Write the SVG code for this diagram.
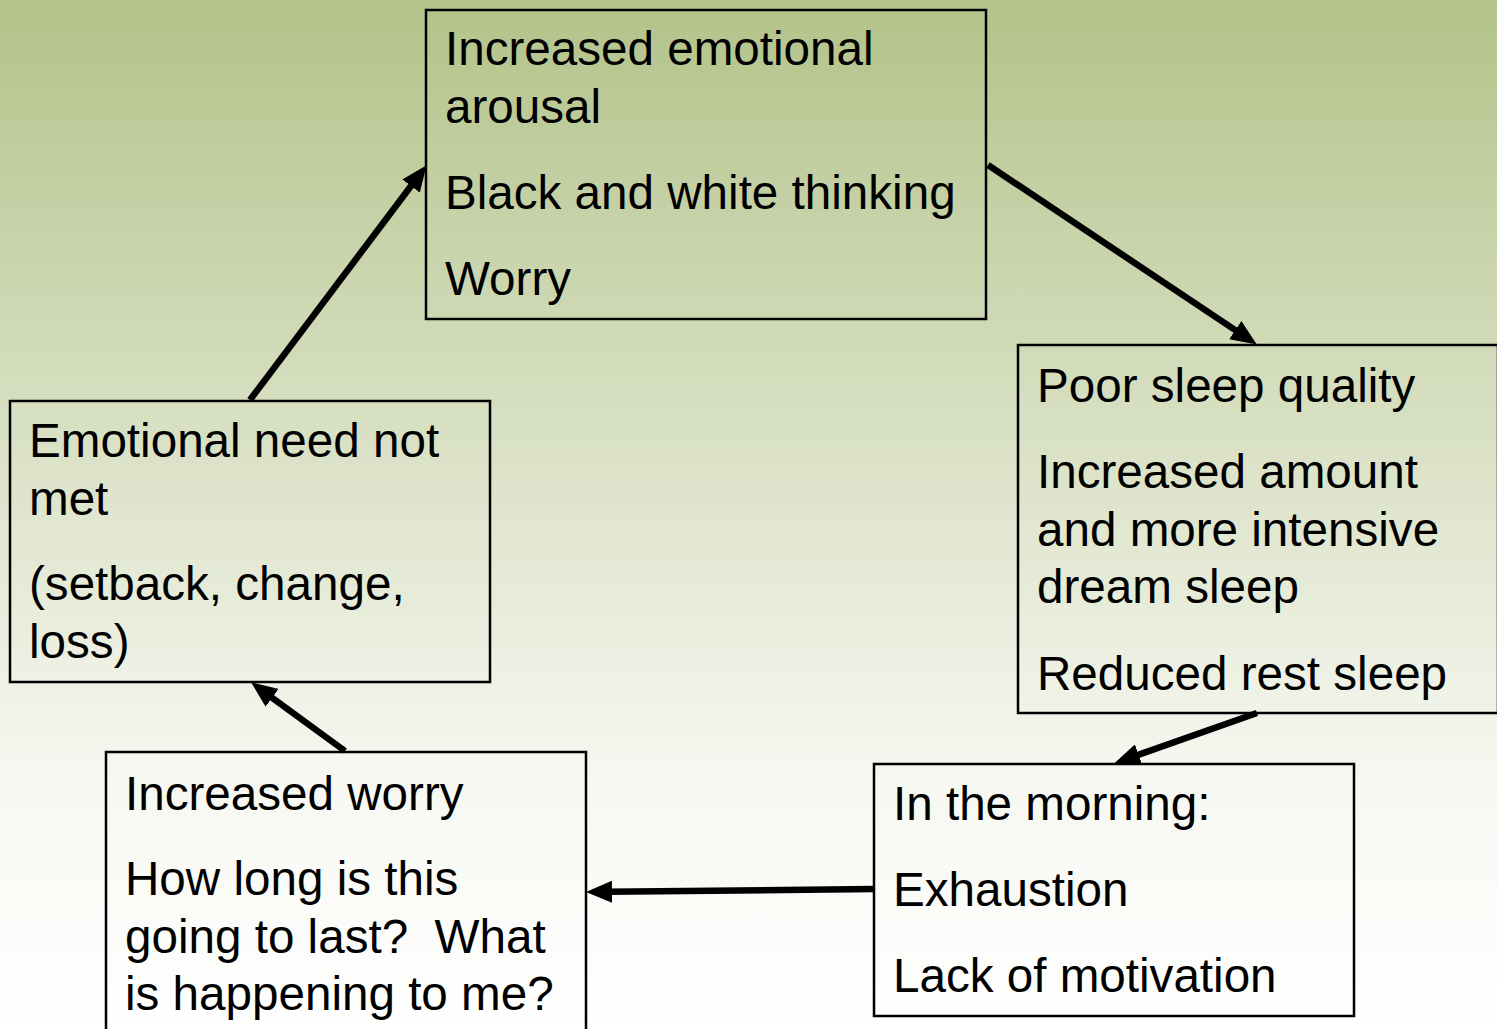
<svg xmlns="http://www.w3.org/2000/svg" width="1497" height="1029" viewBox="0 0 1497 1029">
<defs>
<linearGradient id="bg" x1="0" y1="0" x2="0" y2="1">
<stop offset="0" stop-color="#b3c38a"/>
<stop offset="0.76" stop-color="#f7f8f2"/>
<stop offset="1" stop-color="#ffffff"/>
</linearGradient>
<marker id="ah" markerUnits="userSpaceOnUse" viewBox="0 0 26 22" refX="5" refY="11" markerWidth="26" markerHeight="22" orient="auto">
<path d="M0,0 L26,11 L0,22 z" fill="#000"/>
</marker>
<style>
.box{fill:none;stroke:#000;stroke-width:2.5}
.t{font-family:"Liberation Sans",Arial,sans-serif;font-size:47.6px;fill:#000}
.c{stroke:#000;stroke-width:6.5;fill:none;marker-end:url(#ah)}
</style>
</defs>
<rect x="0" y="0" width="1497" height="1029" fill="url(#bg)"/>
<g id="connectors">
<line class="c" x1="250" y1="400" x2="414" y2="182"/>
<line class="c" x1="988" y1="165" x2="1239.4" y2="332.9"/>
<line class="c" x1="1257" y1="713" x2="1133.9" y2="756.4"/>
<line class="c" x1="874" y1="889" x2="607" y2="891.8"/>
<line class="c" x1="345" y1="751" x2="268.1" y2="694.8"/>
</g>
<g id="node-arousal">
<rect class="box" x="426" y="10" width="560" height="309"/>
<text class="t" x="445" y="65">Increased emotional</text>
<text class="t" x="445" y="123">arousal</text>
<text class="t" x="445" y="209">Black and white thinking</text>
<text class="t" x="445" y="295">Worry</text>
</g>
<g id="node-sleep">
<rect class="box" x="1018" y="345" width="480" height="368"/>
<text class="t" x="1037" y="402">Poor sleep quality</text>
<text class="t" x="1037" y="488">Increased amount</text>
<text class="t" x="1037" y="546">and more intensive</text>
<text class="t" x="1037" y="603">dream sleep</text>
<text class="t" x="1037" y="690">Reduced rest sleep</text>
</g>
<g id="node-morning">
<rect class="box" x="874" y="764" width="480" height="252"/>
<text class="t" x="893" y="820">In the morning:</text>
<text class="t" x="893" y="906">Exhaustion</text>
<text class="t" x="893" y="992">Lack of motivation</text>
</g>
<g id="node-worry">
<rect class="box" x="106" y="752" width="480" height="290"/>
<text class="t" x="125" y="810">Increased worry</text>
<text class="t" x="125" y="895">How long is this</text>
<text class="t" x="125" y="953" xml:space="preserve">going to last?  What</text>
<text class="t" x="125" y="1010">is happening to me?</text>
</g>
<g id="node-need">
<rect class="box" x="10" y="401" width="480" height="281"/>
<text class="t" x="29" y="457">Emotional need not</text>
<text class="t" x="29" y="515">met</text>
<text class="t" x="29" y="600">(setback, change,</text>
<text class="t" x="29" y="658">loss)</text>
</g>
</svg>
